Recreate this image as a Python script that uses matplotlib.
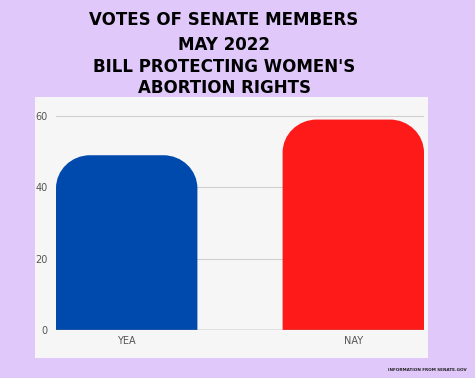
import numpy as np
import matplotlib
matplotlib.use('Agg')
from matplotlib import pyplot as plt
from matplotlib import patches
from matplotlib.path import Path

categories = ['YEA', 'NAY']
votes = [49, 59]
bar_colors = ['#004aad', '#ff1a1a']
title_lines = ['VOTES OF SENATE MEMBERS', 'MAY 2022',
               "BILL PROTECTING WOMEN'S", 'ABORTION RIGHTS']

W, H = 475, 378
fig = plt.figure(figsize=(W / 100, H / 100), dpi=100)
fig.patch.set_facecolor('#e0c8fb')

# light panel behind the chart
panel = patches.Rectangle((35 / W, 1 - 358 / H), (428 - 35) / W, (358 - 97) / H,
                          transform=fig.transFigure, facecolor='#f6f6f6',
                          edgecolor='none', zorder=-1)
fig.patches.append(panel)

# axes: y=0 at px 330, y=60 at px 116
px_per_unit = (330 - 116) / 60
ymax = 62
top_px = 330 - ymax * px_per_unit
ax = fig.add_axes([56 / W, 1 - 330 / H, (424 - 56) / W, (330 - top_px) / H])
ax.set_facecolor('none')
ax.set_zorder(2)

bw = 0.624
x = np.arange(len(categories))
ax.set_xlim(-bw / 2, len(categories) - 1 + bw / 2)
ax.set_ylim(0, ymax)

# rounded-top bars
rx = 34 / 226  # data units in x (226 px between centers)
ry = 33 / px_per_unit
k = 0.5523
for xi, v, c in zip(x, votes, bar_colors):
    x0, x1 = xi - bw / 2, xi + bw / 2
    verts = [(x0, 0), (x0, v - ry),
             (x0, v - ry + k * ry), (x0 + rx - k * rx, v), (x0 + rx, v),
             (x1 - rx, v),
             (x1 - rx + k * rx, v), (x1, v - ry + k * ry), (x1, v - ry),
             (x1, 0), (x0, 0)]
    codes = [Path.MOVETO, Path.LINETO,
             Path.CURVE4, Path.CURVE4, Path.CURVE4,
             Path.LINETO,
             Path.CURVE4, Path.CURVE4, Path.CURVE4,
             Path.LINETO, Path.CLOSEPOLY]
    ax.add_patch(patches.PathPatch(Path(verts, codes), facecolor=c,
                                   edgecolor='none', zorder=3))

ax.set_yticks([0, 20, 40, 60])
ax.yaxis.grid(True, color='#d0d0d0', linewidth=0.8)
ax.set_axisbelow(True)
ax.axhline(0, color='#9a9a9a', linewidth=1, zorder=4)
for s in ax.spines.values():
    s.set_visible(False)
ax.set_xticks(x)
ax.set_xticklabels(categories)
ax.tick_params(length=0, labelsize=7, labelcolor='#555555')
ax.tick_params(axis='y', pad=6)
ax.tick_params(axis='x', pad=4)

ys = [20, 45, 67, 88]
for line, yp in zip(title_lines, ys):
    fig.text(224 / W, 1 - yp / H, line, ha='center', va='center',
             fontsize=12, fontweight='heavy', family='DejaVu Sans',
             color='black')

fig.text(427 / W, 1 - 370 / H, 'INFORMATION FROM SENATE.GOV', ha='center',
         va='center', fontsize=3, fontweight='bold', color='#222222')

fig.savefig('out.png', dpi=100, facecolor=fig.get_facecolor())
